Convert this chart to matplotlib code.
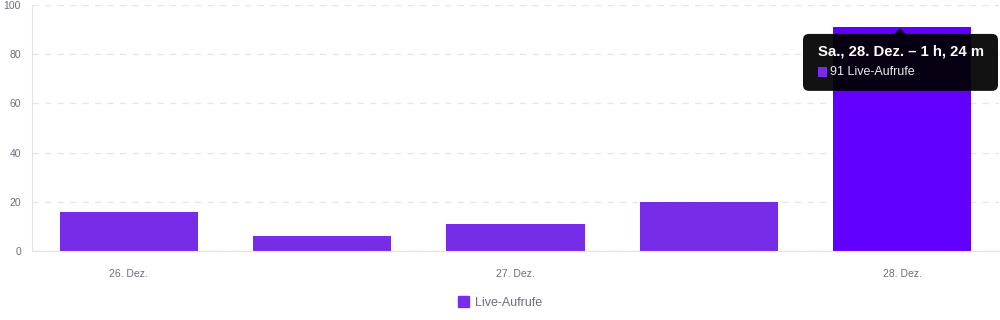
import matplotlib
matplotlib.use("Agg")
import matplotlib.pyplot as plt
from matplotlib.patches import FancyBboxPatch, Polygon, Patch

plt.rcParams['font.family'] = ['Liberation Sans', 'DejaVu Sans']

# data
days = ["26. Dez.", "", "27. Dez.", "", "28. Dez."]
views = [16, 6, 11, 20, 91]
tooltip_title = "Sa., 28. Dez. – 1 h, 24 m"
series_name = "Live-Aufrufe"

bar_color = "#772ce8"
hi_color = "#6100ff"
colors = [bar_color] * 4 + [hi_color]

fig = plt.figure(figsize=(10, 3.2), dpi=100)
ax = fig.add_axes([0.032, 0.2156, 0.967, 0.7684])

x = list(range(len(views)))
ax.bar(x, views, width=0.715, color=colors, zorder=2)

ax.set_xlim(-0.5, len(views) - 0.5)
ax.set_ylim(0, 100)
ax.set_yticks(range(0, 101, 20))
ax.set_xticks(x)
ax.set_xticklabels(days)
ax.tick_params(axis="both", length=0, labelsize=7.5, colors="#6e6e7a")
ax.tick_params(axis="x", pad=13)
ax.tick_params(axis="y", pad=8)

ax.grid(axis="y", color="#e6e6ea", linestyle=(0, (5, 5)), linewidth=0.9, zorder=0)
for s in ["top", "right"]:
    ax.spines[s].set_visible(False)
ax.spines["left"].set_color("#e3e3e6")
ax.spines["bottom"].set_color("#e3e3e6")

# legend
fig.legend(handles=[Patch(color=bar_color, label=series_name)], loc="lower center",
           bbox_to_anchor=(0.5, 0.0), frameon=False, fontsize=9, labelcolor="#6e6e7a",
           handlelength=0.9, handleheight=0.9, handletextpad=0.5)

# tooltip
box = FancyBboxPatch((0.803, 0.716), 0.195, 0.178, boxstyle="round,pad=0,rounding_size=0.006",
                     transform=fig.transFigure, facecolor="black", alpha=0.93,
                     edgecolor="none", zorder=5, mutation_aspect=3.125)
fig.patches.append(box)
tri = Polygon([(0.894, 0.893), (0.906, 0.893), (0.900, 0.912)], closed=True,
              transform=fig.transFigure, facecolor="black", alpha=0.93, edgecolor="none", zorder=5)
fig.patches.append(tri)
fig.text(0.818, 0.838, tooltip_title, color="white", fontsize=10.7, fontweight="bold",
         va="center", ha="left", zorder=6)
fig.patches.append(FancyBboxPatch((0.818, 0.760), 0.009, 0.031, boxstyle="square,pad=0",
                                  transform=fig.transFigure, facecolor=bar_color,
                                  edgecolor="none", zorder=6))
fig.text(0.830, 0.776, f"{views[4]} {series_name}", color="#e8e8ee", fontsize=9,
         va="center", ha="left", zorder=6)

fig.savefig("out.png", dpi=100)
